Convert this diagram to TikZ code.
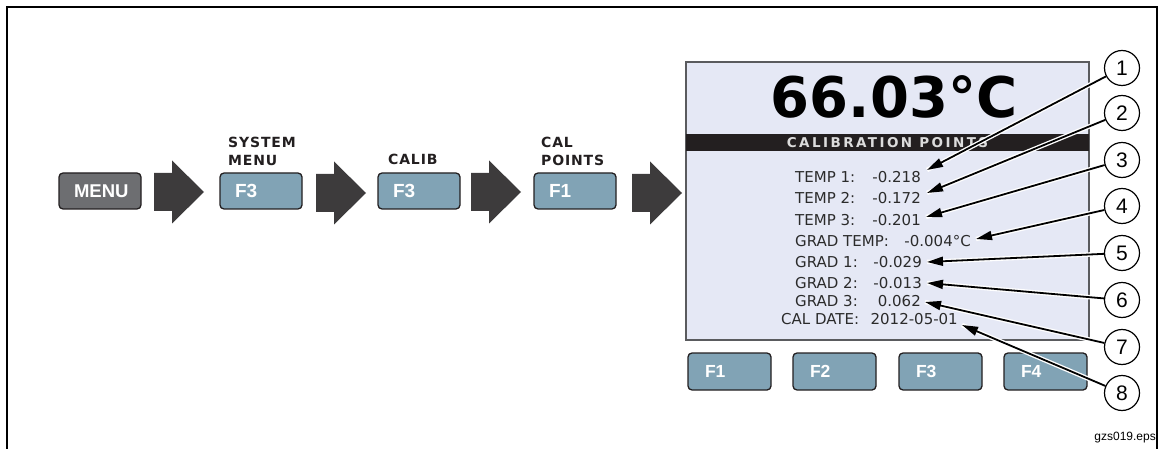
\documentclass[tikz,border=0pt]{standalone}
\usepackage{fontspec}
\setmainfont{DejaVu Sans}
\newfontfamily\arial{Liberation Sans}
\newfontfamily\lblfont[LetterSpace=6]{DejaVu Sans}
\newfontfamily\barfont[LetterSpace=18]{DejaVu Sans}
\usetikzlibrary{arrows.meta}
\definecolor{btnblue}{HTML}{81A3B5}
\definecolor{btngray}{HTML}{6D6E71}
\definecolor{arrowgray}{HTML}{3D3B3C}
\definecolor{screenbg}{HTML}{E5E8F5}
\definecolor{screenline}{HTML}{5A5B5E}
\definecolor{barblack}{HTML}{231F20}
\definecolor{bartext}{HTML}{DCDCDC}
\definecolor{txt}{HTML}{2B2B2B}
\tikzset{
  keybox/.style={draw=barblack, line width=1.3pt, rounded corners=4pt, fill=btnblue,
    text=white, minimum height=36pt, text width=52pt, inner xsep=15pt, inner ysep=0pt,
    align=left, font=\arial\bfseries\fontsize{19}{19}\selectfont},
  fkey/.style={keybox, minimum height=37pt, text width=49pt, inner xsep=17pt,
    font=\arial\bfseries\fontsize{17.5}{17.5}\selectfont},
  steplabel/.style={anchor=west, inner sep=0pt, align=left, text=barblack,
    font=\lblfont\bfseries\fontsize{14}{18}\selectfont},
  rowlabel/.style={anchor=west, inner sep=0pt, text=txt, font=\fontsize{15}{15}\selectfont},
  rowvalue/.style={anchor=east, inner sep=0pt, text=txt, font=\fontsize{15}{15}\selectfont},
  callout/.style={circle, draw=black, line width=1.2pt, fill=white, minimum size=35pt,
    inner sep=0pt, font=\arial\fontsize{21}{21}\selectfont},
  casing/.style={draw=white, line width=4.5pt, shorten <=1.5pt},
  leader/.style={draw=black, line width=1.8pt, -{Triangle[length=16pt,width=9pt]}},
  blockarrow/.pic={\fill[arrowgray] (0,-19) -- (18,-19) -- (18,-31.5) -- (50,0)
     -- (18,31.5) -- (18,19) -- (0,19) -- cycle;}
}
\begin{document}
\begin{tikzpicture}[x=1pt,y=-1pt]
\useasboundingbox (0,0) rectangle (1159,449);
% frame
\draw[line width=2pt] (7,449) -- (7,7) -- (1157,7) -- (1157,449);

% step buttons
\node[keybox, fill=btngray, align=center, font=\arial\bfseries\fontsize{18.5}{18.5}\selectfont] (menu) at (100,191) {MENU};
\node[keybox] (k1) at (261,191) {F3};
\node[keybox] (k2) at (419,191) {F3};
\node[keybox] (k3) at (575,191) {F1};
\node[steplabel] (l1) at (228,151) {SYSTEM\\MENU};
\node[steplabel] (l2) at (388,159) {CALIB};
\node[steplabel] (l3) at (541,151) {CAL\\POINTS};

% block arrows
\pic at (154,192) {blockarrow};
\pic at (316,193) {blockarrow};
\pic at (471,192) {blockarrow};
\pic at (632,193) {blockarrow};

% screen
\node[draw=screenline, fill=screenbg, line width=1.3pt, minimum width=403pt,
  minimum height=278pt, inner sep=0pt] (screen) at (887.5,201) {};
\node[fill=barblack, minimum width=403pt, minimum height=17pt, inner sep=0pt,
  text=bartext, font=\barfont\bfseries\fontsize{13.5}{13.5}\selectfont] (bar)
  at (887.5,142.5) {CALIBRATION POINTS};
\node[inner sep=0pt, font=\bfseries\fontsize{56}{56}\selectfont] (temp) at (894,97) {66.03°C};

% rows
\node[rowlabel] (r1) at (795,177) {TEMP 1:};
\node[rowvalue] (v1) at (921,177) {-0.218};
\node[rowlabel] (r2) at (795,198) {TEMP 2:};
\node[rowvalue] (v2) at (921,198) {-0.172};
\node[rowlabel] (r3) at (795,220) {TEMP 3:};
\node[rowvalue] (v3) at (921,220) {-0.201};
\node[rowlabel] (r4) at (795,241) {GRAD TEMP:};
\node[rowvalue] (v4) at (971,241) {-0.004°C};
\node[rowlabel] (r5) at (795,262) {GRAD 1:};
\node[rowvalue] (v5) at (922,262) {-0.029};
\node[rowlabel] (r6) at (795,283) {GRAD 2:};
\node[rowvalue] (v6) at (922,283) {-0.013};
\node[rowlabel] (r7) at (795,301) {GRAD 3:};
\node[rowvalue] (v7) at (921,301) {0.062};
\node[rowlabel] (r8) at (781,319) {CAL DATE:};
\node[rowvalue] (v8) at (958,319) {2012-05-01};

% function keys
\node[fkey] (f1) at (729.5,371.5) {F1};
\node[fkey] (f2) at (834.5,371.5) {F2};
\node[fkey] (f3) at (940.5,371.5) {F3};
\node[fkey] (f4) at (1045.5,371.5) {F4};

% callouts
\node[callout] (c1) at (1122,68) {1};
\node[callout] (c2) at (1122,113) {2};
\node[callout] (c3) at (1122,160) {3};
\node[callout] (c4) at (1122,206) {4};
\node[callout] (c5) at (1122,253) {5};
\node[callout] (c6) at (1122,300) {6};
\node[callout] (c7) at (1122,347) {7};
\node[callout] (c8) at (1122,393) {8};

% leaders
\foreach \c/\v/\s in {c1/v1/{(6,-7)}, c2/v2/{(6,-5)}, c3/v3/{(5,-3)}, c4/v4/{(5,-2)},
                      c5/v5/{(5,0)}, c6/v6/{(5,0)}, c7/v7/{(4,1)}, c8/v8/{(4,6)}}{
  \draw[casing] (\c) -- ([shift=\s]\v.east);
  \draw[leader] (\c) -- ([shift=\s]\v.east);
}

\node[anchor=east, inner sep=0pt, font=\arial\fontsize{12}{12}\selectfont] (file) at (1156,438) {gzs019.eps};
\end{tikzpicture}
\end{document}
